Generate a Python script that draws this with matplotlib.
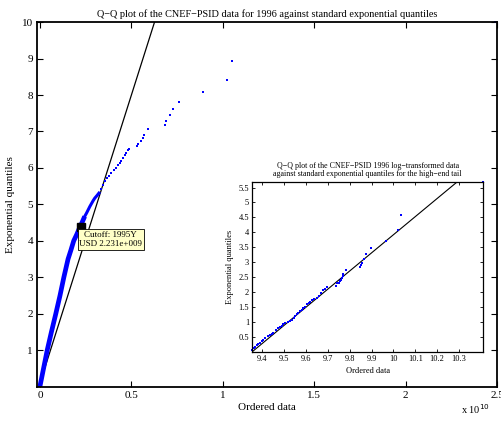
import matplotlib
matplotlib.use("Agg")
import matplotlib.pyplot as plt
import numpy as np

plt.rcParams['font.family'] = ['Liberation Serif', 'DejaVu Serif']

# main Q-Q plot, x in units of 1e10
dense_x = [0.0, 0.020, 0.040, 0.063, 0.087, 0.110, 0.131, 0.154, 0.170, 0.185, 0.202, 0.218, 0.232, 0.245]
dense_y = [0.0, 0.50, 1.00, 1.50, 2.00, 2.50, 3.00, 3.50, 3.75, 4.00, 4.18, 4.37, 4.52, 4.67]
mid_x = [0.245, 0.255, 0.264, 0.273, 0.282, 0.291, 0.300, 0.312, 0.323]
mid_y = [4.67, 4.76, 4.85, 4.94, 5.02, 5.10, 5.17, 5.24, 5.31]
upper_x = [0.334, 0.345, 0.356, 0.367, 0.379, 0.391, 0.404, 0.418, 0.427, 0.436,
           0.445, 0.454, 0.463, 0.473, 0.481, 0.487]
upper_y = [5.43, 5.54, 5.63, 5.72, 5.79, 5.86, 5.93, 6.00, 6.07, 6.13,
           6.20, 6.27, 6.35, 6.42, 6.48, 6.53]
tail_x = [0.531, 0.534, 0.554, 0.563, 0.571, 0.591, 0.682, 0.691, 0.713, 0.727,
          0.760, 0.890, 1.023, 1.049, 2.49]
tail_y = [6.59, 6.65, 6.73, 6.82, 6.91, 7.07, 7.18, 7.30, 7.45, 7.61,
          7.82, 8.07, 8.41, 8.92, 9.99]
ref_x = [-0.015, 0.627]
ref_y = [-0.15, 10.0]
cutoff_x = 0.2231
cutoff_y = 4.37

# inset: log10 data of the tail
tail_log = [9.352, 9.360, 9.367, 9.375, 9.382, 9.390, 9.397, 9.405, 9.412, 9.424,
            9.435, 9.443, 9.450, 9.462, 9.473, 9.481, 9.489, 9.497, 9.504, 9.516,
            9.527, 9.536, 9.545, 9.551, 9.557, 9.565, 9.572, 9.580, 9.588, 9.595,
            9.606, 9.612, 9.618, 9.626, 9.638, 9.649, 9.659, 9.667, 9.679, 9.688,
            9.697, 9.737, 9.743, 9.752, 9.756, 9.758, 9.763, 9.768, 9.771, 9.783,
            9.847, 9.850, 9.855, 9.865, 9.873, 9.896, 9.965, 10.022, 10.033, 10.412]
tail_q = [0.07, 0.12, 0.17, 0.22, 0.26, 0.30, 0.35, 0.40, 0.46, 0.52,
          0.57, 0.61, 0.65, 0.72, 0.79, 0.83, 0.87, 0.92, 0.96, 0.99,
          1.03, 1.08, 1.12, 1.20, 1.26, 1.31, 1.37, 1.42, 1.47, 1.51,
          1.59, 1.63, 1.67, 1.73, 1.76, 1.79, 1.87, 1.96, 2.06, 2.12,
          2.18, 2.22, 2.31, 2.31, 2.37, 2.42, 2.46, 2.53, 2.62, 2.73,
          2.83, 2.91, 2.98, 3.11, 3.28, 3.48, 3.72, 4.07, 4.59, 5.70]
inset_ref_x = [9.353, 10.292]
inset_ref_y = [0.0, 5.69]

fig = plt.figure(figsize=(5.02, 4.21), dpi=100)
ax = fig.add_axes([0.074, 0.0815, 0.916, 0.866])

ax.plot(ref_x, ref_y, color='black', lw=0.9)
ax.plot(dense_x, dense_y, color='blue', lw=3.4, solid_capstyle='butt', solid_joinstyle='round')
ax.plot(mid_x, mid_y, color='blue', lw=2.2, solid_joinstyle='round')
ax.plot(upper_x, upper_y, linestyle='none', color='blue', marker='s', ms=1.8, mew=0)
ax.plot(tail_x, tail_y, linestyle='none', color='blue', marker='s', ms=2.0, mew=0, clip_on=False)
ax.plot([cutoff_x], [cutoff_y], marker='s', color='black', ms=5.5)
ax.text(cutoff_x + 0.165, cutoff_y - 0.1, "Cutoff: 1995Y\nUSD 2.231e+009",
        fontsize=6.5, ha='center', va='top', multialignment='center', linespacing=1.15,
        bbox=dict(boxstyle='square,pad=0.2', fc='#ffffc8', ec='black', lw=0.6))

ax.set_xlim(-0.015, 2.5)
ax.set_ylim(0, 10)
ax.set_xticks([0, 0.5, 1, 1.5, 2, 2.5])
ax.set_xticklabels(['0', '0.5', '1', '1.5', '2', '2.5'])
ax.set_yticks(range(1, 11))
ax.tick_params(direction='in', top=True, right=True, labelsize=8, length=4, width=0.8, pad=3)
for s in ax.spines.values():
    s.set_linewidth(1.3)
ax.set_title("Q\u2212Q plot of the CNEF\u2212PSID data for 1996 against standard exponential quantiles",
             fontsize=7.4, pad=4)
ax.set_xlabel("Ordered data", fontsize=8, labelpad=2)
ax.set_ylabel("Exponential quantiles", fontsize=8, labelpad=5)
fig.text(0.918, 0.012, "x 10$^{10}$", fontsize=7.5, ha='left', va='bottom')

ins = fig.add_axes([0.502, 0.164, 0.461, 0.404])
ins.plot(inset_ref_x, inset_ref_y, color='black', lw=0.8)
ins.plot(tail_log, tail_q, linestyle='none', color='blue', marker='s', ms=1.7, mew=0, clip_on=False)
ins.set_xlim(9.353, 10.412)
ins.set_ylim(0.0, 5.69)
ins.set_xticks(np.round(np.arange(9.4, 10.35, 0.1), 1))
ins.set_xticklabels(['9.4', '9.5', '9.6', '9.7', '9.8', '9.9', '10', '10.1', '10.2', '10.3'])
ins.set_yticks(np.arange(0.5, 5.6, 0.5))
ins.set_yticklabels(['0.5', '1', '1.5', '2', '2.5', '3', '3.5', '4', '4.5', '5', '5.5'])
ins.tick_params(direction='in', top=True, right=True, labelsize=6, length=2.5, width=0.6, pad=2)
for s in ins.spines.values():
    s.set_linewidth(0.9)
ins.set_title("Q\u2212Q plot of the CNEF\u2212PSID 1996 log\u2212transformed data\n"
              "against standard exponential quantiles for the high\u2212end tail",
              fontsize=5.7, pad=4, linespacing=1.1)
ins.set_xlabel("Ordered data", fontsize=6, labelpad=3)
ins.set_ylabel("Exponential quantiles", fontsize=6, labelpad=3)

fig.savefig("out.png", dpi=100)
